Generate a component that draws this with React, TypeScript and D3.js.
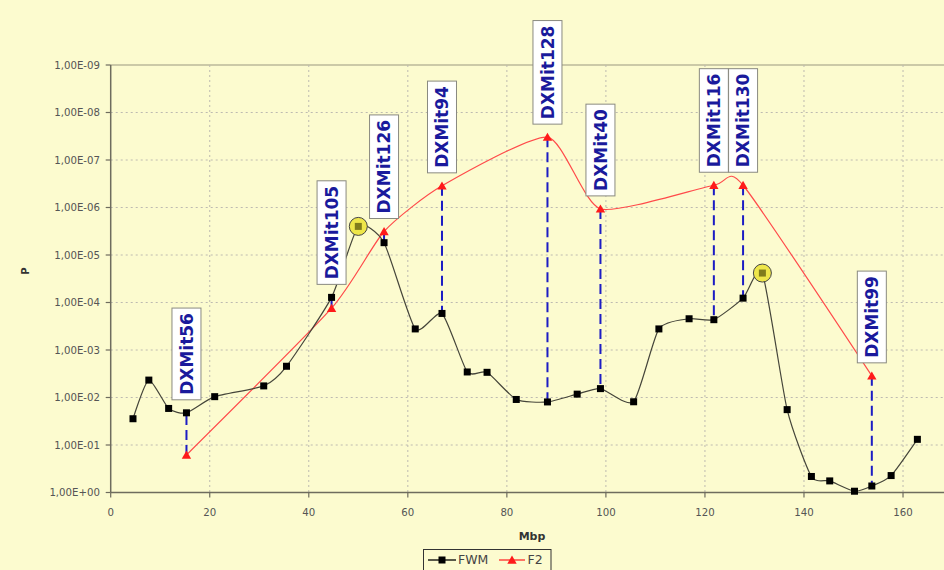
import React from "react";
import * as d3 from "d3";

const fwmMbp = [4.5, 7.7, 11.7, 15.3, 21.0, 30.9, 35.5, 44.6, 50.0, 55.2, 61.5, 66.9, 72.0, 76.0, 81.9, 88.2, 94.2, 98.9, 105.6, 110.7, 116.8, 121.8, 127.7, 131.6, 136.6, 141.5, 145.2, 150.2, 153.7, 157.6, 162.9];
const fwmP = [2.8e-2, 4.3e-3, 1.7e-2, 2.1e-2, 9.6e-3, 5.7e-3, 2.2e-3, 7.8e-5, 2.5e-6, 5.5e-6, 3.6e-4, 1.7e-4, 2.9e-3, 2.95e-3, 1.1e-2, 1.24e-2, 8.5e-3, 6.5e-3, 1.23e-2, 3.6e-4, 2.2e-4, 2.3e-4, 8.1e-5, 2.4e-5, 1.8e-2, 0.46, 0.57, 0.94, 0.73, 0.44, 7.6e-2];

const markerNames = ["DXMit56", "DXMit105", "DXMit126", "DXMit94", "DXMit128", "DXMit40", "DXMit116", "DXMit130", "DXMit99"];
const markerMbp = [15.3, 44.6, 55.2, 66.9, 88.2, 98.9, 121.8, 127.7, 153.7];
const markerP = [0.162, 1.32e-4, 3.2e-6, 3.5e-7, 3.3e-8, 1.07e-6, 3.4e-7, 3.4e-7, 3.5e-3];

const highlightMbp = [50.0, 131.6];

const yTicks = [1, 1e-1, 1e-2, 1e-3, 1e-4, 1e-5, 1e-6, 1e-7, 1e-8, 1e-9];
const yTickLabels = ["1,00E+00", "1,00E-01", "1,00E-02", "1,00E-03", "1,00E-04", "1,00E-05", "1,00E-06", "1,00E-07", "1,00E-08", "1,00E-09"];
const xTicks = [0, 20, 40, 60, 80, 100, 120, 140, 160];

const seriesNames = ["FWM", "F2"];

const W = 944;
const H = 570;
const BG = "#FCFBCF";
const LABEL_FONT = "bold 17px 'DejaVu Sans'";

let ctx: CanvasRenderingContext2D | null = null;
function measure(t: string, font: string) {
  if (!ctx) ctx = document.createElement("canvas").getContext("2d");
  if (!ctx) return t.length * 12;
  ctx.font = font;
  return ctx.measureText(t).width;
}

export default function App() {
  const x = d3.scaleLinear().domain([0, 170]).range([110.7, 110.7 + 170 * 4.952]);
  const y = d3.scaleLog().domain([1, 1e-9]).range([492.5, 65]);
  const x0 = x(0);
  const yBottom = y(1);
  const yTop = y(1e-9);

  const fwm: [number, number][] = fwmMbp.map((m, i) => [m, fwmP[i]]);
  const f2: [number, number][] = markerMbp.map((m, i) => [m, markerP[i]]);
  const fwmAt = (m: number) => fwmP[fwmMbp.indexOf(m)];

  const line = d3
    .line<[number, number]>()
    .x((d) => x(d[0]))
    .y((d) => y(d[1]))
    .curve(d3.curveCardinal.tension(0.4));

  const tri = d3.symbol(d3.symbolTriangle, 38)();
  const textFont = "'DejaVu Sans', Verdana, sans-serif";

  return (
    <svg width={W} height={H} style={{ position: "absolute", left: 0, top: 0, background: BG }}>
      <rect x={0} y={0} width={W} height={H} fill={BG} />
      {/* gridlines */}
      {yTicks.slice(1, -1).map((t) => (
        <line key={"gy" + t} x1={x0} x2={W} y1={y(t)} y2={y(t)} stroke="#bdbab0" strokeWidth={1} strokeDasharray="2,3" />
      ))}
      <line x1={x0} x2={W} y1={yTop} y2={yTop} stroke="#9a9880" strokeWidth={1.2} />
      {xTicks.slice(1).map((t) => (
        <line key={"gx" + t} x1={x(t)} x2={x(t)} y1={yTop} y2={yBottom} stroke="#bdbab0" strokeWidth={1} strokeDasharray="2,3" />
      ))}
      {/* axes */}
      <line x1={x0} x2={x0} y1={yTop} y2={yBottom} stroke="#6e6c5e" strokeWidth={1.5} />
      <line x1={x0} x2={W} y1={yBottom} y2={yBottom} stroke="#6e6c5e" strokeWidth={1.5} />
      {yTicks.map((t, i) => (
        <g key={"ty" + t}>
          <line x1={x0 - 5} x2={x0} y1={y(t)} y2={y(t)} stroke="#6e6c5e" strokeWidth={1.2} />
          <text x={100} y={y(t)} dy="0.35em" textAnchor="end" fontFamily={textFont} fontSize={10.2} fill="#555">
            {yTickLabels[i]}
          </text>
        </g>
      ))}
      {xTicks.map((t) => (
        <g key={"tx" + t}>
          <line x1={x(t)} x2={x(t)} y1={yBottom} y2={yBottom + 5} stroke="#6e6c5e" strokeWidth={1.2} />
          <text x={x(t)} y={512} dy="0.35em" textAnchor="middle" fontFamily={textFont} fontSize={10.2} fill="#555">
            {t}
          </text>
        </g>
      ))}
      <text x={532} y={536} dy="0.35em" textAnchor="middle" fontFamily={textFont} fontWeight="bold" fontSize={11} fill="#333">
        Mbp
      </text>
      <text transform={`translate(29,271) rotate(-90)`} textAnchor="middle" fontFamily={textFont} fontWeight="bold" fontSize={10} fill="#333">
        P
      </text>

      {/* series lines */}
      <path d={line(f2) || ""} fill="none" stroke="#ff4a4a" strokeWidth={1.2} />
      <path d={line(fwm) || ""} fill="none" stroke="#45453a" strokeWidth={1.2} />

      {/* dashed connectors */}
      {markerMbp.map((m, i) => (
        <line
          key={"dl" + i}
          x1={x(m)}
          x2={x(m)}
          y1={y(markerP[i])}
          y2={y(fwmAt(m))}
          stroke="#1c1cc4"
          strokeWidth={2}
          strokeDasharray="10,5"
        />
      ))}

      {/* FWM markers */}
      {fwm.map((d, i) => (
        <rect key={"sq" + i} x={x(d[0]) - 3.5} y={y(d[1]) - 3.5} width={7} height={7} fill="#000" />
      ))}
      {/* highlighted */}
      {highlightMbp.map((m) => (
        <g key={"hl" + m}>
          <circle cx={x(m)} cy={y(fwmAt(m))} r={9} fill="#eee64a" stroke="#444" strokeWidth={1} />
          <rect x={x(m) - 3.5} y={y(fwmAt(m)) - 3.5} width={7} height={7} fill="#807c1c" />
        </g>
      ))}
      {/* F2 markers */}
      {f2.map((d, i) => (
        <path key={"tr" + i} d={tri || ""} transform={`translate(${x(d[0])},${y(d[1]) + 1})`} fill="#ff1a1a" />
      ))}

      {/* labels */}
      {markerNames.map((n, i) => {
        const cx = x(markerMbp[i]);
        const top = Math.min(y(markerP[i]), y(fwmAt(markerMbp[i])));
        const tl = measure(n, LABEL_FONT);
        const h = tl + 10;
        const bottom = top - 13;
        return (
          <g key={"lb" + n}>
            <rect x={cx - 14.5} y={bottom - h} width={29} height={h} fill="#fff" stroke="#8a8a80" strokeWidth={1} />
            <text
              transform={`translate(${cx + 6.2},${bottom - 5}) rotate(-90)`}
              fontFamily={textFont}
              fontWeight="bold"
              fontSize={17}
              fill="#1a1a9c"
            >
              {n}
            </text>
          </g>
        );
      })}

      {/* legend */}
      <rect x={423.5} y={549.5} width={127.5} height={26} fill={BG} stroke="#333" strokeWidth={1} />
      <line x1={428} x2={456} y1={560} y2={560} stroke="#000" strokeWidth={1.3} />
      <rect x={438.5} y={556.5} width={7} height={7} fill="#000" />
      <text x={458} y={560} dy="0.35em" fontFamily={textFont} fontSize={12.5} fill="#444">
        {seriesNames[0]}
      </text>
      <line x1={499} x2={525} y1={560} y2={560} stroke="#ff2a2a" strokeWidth={1.3} />
      <path d={tri || ""} transform={`translate(512,561)`} fill="#ff1a1a" />
      <text x={527.5} y={560} dy="0.35em" fontFamily={textFont} fontSize={12.5} fill="#444">
        {seriesNames[1]}
      </text>
    </svg>
  );
}
